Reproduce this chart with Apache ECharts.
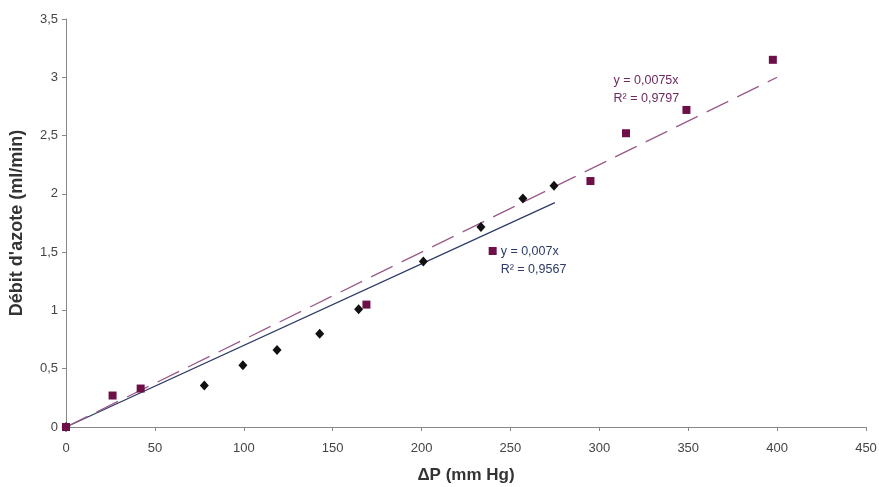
<!DOCTYPE html>
<html><head><meta charset="utf-8">
<script src="https://cdn.jsdelivr.net/npm/echarts@6/dist/echarts.min.js"></script>
<style>html,body{margin:0;padding:0;background:#fff}#c{width:879px;height:487px}</style>
</head><body><div id="c"></div>
<script>
// Data
const diamondX = [0, 77.8, 99.5, 118.7, 142.7, 164.6, 201, 233.4, 257, 274.5];
const diamondY = [0, 0.355, 0.53, 0.66, 0.80, 1.01, 1.42, 1.715, 1.96, 2.07];
const squareX = [0, 26.2, 42, 169, 240, 295, 315, 349, 397.6];
const squareY = [0, 0.27, 0.33, 1.05, 1.51, 2.11, 2.52, 2.72, 3.15];
const trendSolid = [[0, 0], [275, 1.925]];
const trendDashed = [[0, 0], [400, 3.0]];
const xTicks = [0, 50, 100, 150, 200, 250, 300, 350, 400, 450];
const yTicks = [0, 0.5, 1, 1.5, 2, 2.5, 3, 3.5];
const eqSolid = ['y = 0,007x', 'R² = 0,9567'];
const eqDashed = ['y = 0,0075x', 'R² = 0,9797'];

const purple = '#6e0f48';
const navy = '#2d3a66';
const dashCol = '#9a5a88';
const font = 'Liberation Sans, Arial, sans-serif';

const chart = echarts.init(document.getElementById('c'));
const fmt = v => String(v).replace('.', ',');
chart.setOption({
  animation: false,
  grid: {left: 66, right: 13, top: 19, bottom: 60, containLabel: false, outerBoundsMode: 'none'},
  xAxis: {
    type: 'value', min: xTicks[0], max: xTicks[xTicks.length - 1], interval: 50,
    name: 'ΔP (mm Hg)', nameLocation: 'middle', nameGap: 40,
    nameTextStyle: {fontFamily: font, fontWeight: 'bold', fontSize: 17, color: '#333'},
    axisLine: {lineStyle: {color: '#888'}},
    axisTick: {show: true, length: 4, lineStyle: {color: '#888'}},
    axisLabel: {fontFamily: font, fontSize: 13, color: '#444', margin: 15, formatter: fmt},
    splitLine: {show: false}
  },
  yAxis: {
    type: 'value', min: yTicks[0], max: yTicks[yTicks.length - 1], interval: 0.5,
    name: "Débit d'azote (ml/min)", nameLocation: 'middle', nameGap: 40,
    nameTextStyle: {fontFamily: font, fontWeight: 'bold', fontSize: 18, color: '#333'},
    axisLine: {show: true, lineStyle: {color: '#888'}},
    axisTick: {show: true, length: 4, lineStyle: {color: '#888'}},
    axisLabel: {fontFamily: font, fontSize: 13, color: '#444', margin: 8, formatter: fmt},
    splitLine: {show: false}
  },
  series: [
    {type: 'line', data: trendSolid, symbol: 'none', lineStyle: {color: navy, width: 1.3}, z: 2},
    {type: 'line', data: trendDashed, symbol: 'none', lineStyle: {color: dashCol, width: 1.3, type: [24, 10]}, z: 2},
    {type: 'scatter', data: diamondX.map((x, i) => [x, diamondY[i]]), symbol: 'diamond', symbolSize: [9, 10],
     itemStyle: {color: '#111', opacity: 1}, clip: false, z: 3},
    {type: 'scatter', data: squareX.map((x, i) => [x, squareY[i]]), symbol: 'rect', symbolSize: 8,
     itemStyle: {color: purple, opacity: 1}, clip: false, z: 4}
  ]
});

const p1 = chart.convertToPixel({gridIndex: 0}, [240, 1.51]);
const p2 = chart.convertToPixel({gridIndex: 0}, [308, 2.98]);
chart.setOption({
  graphic: [
    {type: 'text', left: p1[0] + 8, top: p1[1] - 8, style: {text: eqSolid.join('\n'), fill: navy, fontSize: 12.5, lineHeight: 18, fontFamily: font}},
    {type: 'text', left: p2[0], top: p2[1] - 8, style: {text: eqDashed.join('\n'), fill: '#6e2a60', fontSize: 12.5, lineHeight: 18, fontFamily: font}}
  ]
});
</script></body></html>
